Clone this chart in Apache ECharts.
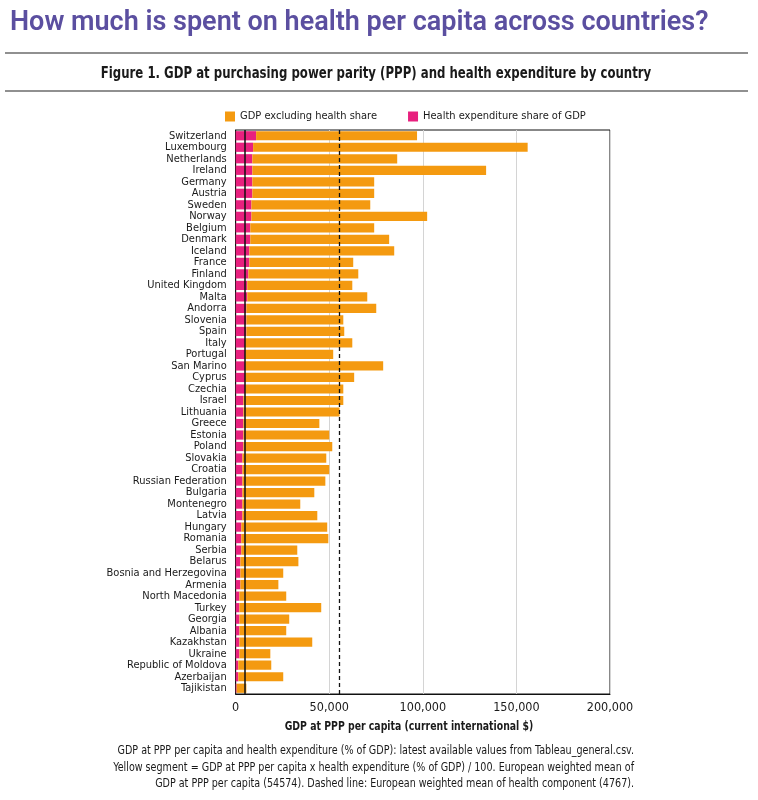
<!DOCTYPE html>
<html>
<head>
<meta charset="utf-8">
<script src="https://cdn.jsdelivr.net/npm/echarts@6/dist/echarts.min.js"></script>
<style>
html,body{margin:0;padding:0;background:#fff;}
#chart{width:758px;height:800px;}
</style>
</head>
<body>
<div id="chart"></div>
<script>
var countries = ["Switzerland","Luxembourg","Netherlands","Ireland","Germany","Austria","Sweden","Norway","Belgium","Denmark","Iceland","France","Finland","United Kingdom","Malta","Andorra","Slovenia","Spain","Italy","Portugal","San Marino","Cyprus","Czechia","Israel","Lithuania","Greece","Estonia","Poland","Slovakia","Croatia","Russian Federation","Bulgaria","Montenegro","Latvia","Hungary","Romania","Serbia","Belarus","Bosnia and Herzegovina","Armenia","North Macedonia","Turkey","Georgia","Albania","Kazakhstan","Ukraine","Republic of Moldova","Azerbaijan","Tajikistan"];
var gdpPerCapita = [96900,156000,86300,133800,74000,74000,71900,102300,74000,82000,84700,62800,65500,62300,70300,75100,57500,58000,62300,52100,78800,63300,57500,57500,55500,44700,50000,51600,48400,50000,47900,42000,34500,43600,48900,49500,32900,33500,25400,22800,27000,45700,28600,27000,40900,18500,19000,25400,5700];
var healthSpend = [10900,9300,8900,8900,8900,8900,8400,8400,7800,7800,7300,7300,6800,6200,6200,5700,5700,5700,5000,5000,5000,5000,5000,4100,4100,4100,4100,4100,3600,3600,3600,3600,3600,3600,3000,3000,3000,2500,2500,2500,2000,2000,2000,2000,2000,2000,1400,1400,500];
var xTicks = [0,50000,100000,150000,200000];
var meanHealth = 4767;
var meanGdpLine = 55500;

var FONT = "'DejaVu Sans Condensed','Liberation Sans',sans-serif";
var ORANGE = '#F49A10';
var PINK = '#E8207E';

var restGdp = gdpPerCapita.map(function(v,i){ return v - healthSpend[i]; });

var chart = echarts.init(document.getElementById('chart'));
chart.setOption({
  animation:false,
  backgroundColor:'#fff',
  textStyle:{fontFamily:FONT},
  graphic:[
    {type:'text', x:10, y:23, style:{text:'How much is spent on health per capita across countries?', fill:'#5B4FA0', font:"600 27px 'Roboto','Liberation Sans',sans-serif", verticalAlign:'middle'}},
    {type:'rect', shape:{x:5,y:52.5,width:743,height:1}, style:{fill:'#222'}},
    {type:'text', x:376, y:74, scaleX:0.87, style:{text:'Figure 1. GDP at purchasing power parity (PPP) and health expenditure by country', fill:'#1a1a1a', font:"bold 15px "+FONT, align:'center', verticalAlign:'middle'}},
    {type:'rect', shape:{x:5,y:90.5,width:743,height:1}, style:{fill:'#222'}},
    {type:'text', x:409, y:727, scaleX:0.83, style:{text:'GDP at PPP per capita (current international $)', fill:'#1a1a1a', font:"bold 12.5px "+FONT, align:'center', verticalAlign:'middle'}},
    {type:'text', x:634, y:751, scaleX:0.887, style:{text:'GDP at PPP per capita and health expenditure (% of GDP): latest available values from Tableau_general.csv.', fill:'#1a1a1a', font:"12px "+FONT, align:'right', verticalAlign:'middle'}},
    {type:'text', x:634, y:767.5, scaleX:0.887, style:{text:'Yellow segment = GDP at PPP per capita x health expenditure (% of GDP) / 100. European weighted mean of', fill:'#1a1a1a', font:"12px "+FONT, align:'right', verticalAlign:'middle'}},
    {type:'text', x:634, y:784, scaleX:0.887, style:{text:'GDP at PPP per capita (54574). Dashed line: European weighted mean of health component (4767).', fill:'#1a1a1a', font:"12px "+FONT, align:'right', verticalAlign:'middle'}}
  ],
  legend:{
    data:['GDP excluding health share','Health expenditure share of GDP'],
    left:220, top:106, itemWidth:10, itemHeight:10, itemGap:31,
    icon:'rect',
    textStyle:{fontFamily:FONT, fontSize:11, color:'#1a1a1a'}
  },
  grid:{left:235.7, right:148, top:130, bottom:106, show:true, borderColor:'#111', borderWidth:1},
  xAxis:{
    type:'value', min:xTicks[0], max:xTicks[xTicks.length-1], interval:50000,
    axisLine:{show:true, lineStyle:{color:'#111'}},
    axisTick:{show:false},
    splitLine:{show:true, lineStyle:{color:'#d4d4d4', width:1}},
    axisLabel:{fontFamily:FONT, fontSize:12.5, color:'#1a1a1a', margin:7,
      formatter:function(v){ return v.toString().replace(/\B(?=(\d{3})+(?!\d))/g, ','); }}
  },
  yAxis:{
    type:'category', data:countries, inverse:true,
    axisLine:{show:true, lineStyle:{color:'#111'}},
    axisTick:{show:false},
    axisLabel:{fontFamily:FONT, fontSize:11, color:'#1a1a1a', margin:9, interval:0}
  },
  series:[
    {name:'Health expenditure share of GDP', type:'bar', stack:'g', data:healthSpend,
     itemStyle:{color:PINK}, barCategoryGap:'20%'},
    {name:'GDP excluding health share', type:'bar', stack:'g', data:restGdp,
     itemStyle:{color:ORANGE}, barCategoryGap:'20%',
     markLine:{silent:true, symbol:'none', label:{show:false}, z:10,
       data:[
         {xAxis:meanHealth, lineStyle:{color:'#111', width:1.5, type:'solid'}},
         {xAxis:meanGdpLine, lineStyle:{color:'#111', width:1.3, type:[4,3]}}
       ]}}
  ]
});
</script>
</body>
</html>
